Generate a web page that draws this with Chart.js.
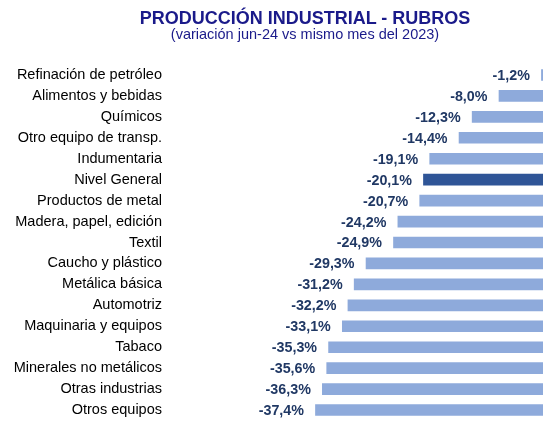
<!DOCTYPE html>
<html>
<head>
<meta charset="utf-8">
<script src="https://cdn.jsdelivr.net/npm/chart.js@4"></script>
<style>
  body { margin: 0; background: #fff; overflow: hidden; }
  #wrap { position: relative; width: 543px; height: 422px; }
  #title, #subtitle {
    position: absolute; left: 0; width: 610px; text-align: center;
    font-family: "Liberation Sans", Arial, sans-serif; color: #1a1a8a; white-space: nowrap;
  }
  #title { top: 8px; font-size: 18px; font-weight: bold; line-height: 20px; }
  #subtitle { top: 27px; font-size: 14.5px; line-height: 15px; }
</style>
</head>
<body>
<div id="wrap">
  <canvas id="rubros_chart" width="543" height="422"></canvas>
  <div id="title">PRODUCCIÓN INDUSTRIAL - RUBROS</div>
  <div id="subtitle">(variación jun-24 vs mismo mes del 2023)</div>
</div>
<script>
// rubros, in the order of the picture
var rubros = ['Refinación de petróleo', 'Alimentos y bebidas', 'Químicos', 'Otro equipo de transp.',
    'Indumentaria', 'Nivel General', 'Productos de metal', 'Madera, papel, edición', 'Textil',
    'Caucho y plástico', 'Metálica básica', 'Automotriz', 'Maquinaria y equipos', 'Tabaco',
    'Minerales no metálicos', 'Otras industrias', 'Otros equipos'];
var variacion = [-1.2, -8.0, -12.3, -14.4, -19.1, -20.1, -20.7, -24.2, -24.9,
    -29.3, -31.2, -32.2, -33.1, -35.3, -35.6, -36.3, -37.4];
var destacado = 'Nivel General';

var colores = rubros.map(function (r) {
    return r === destacado ? '#2f5597' : '#8eaadb';
});

function fmt(v) {
    return v.toFixed(1).replace('.', ',') + '%';
}

// value labels on the left end of each bar
var etiquetas = {
    id: 'etiquetas',
    afterDatasetsDraw: function (chart) {
        var ctx = chart.ctx;
        var meta = chart.getDatasetMeta(0);
        ctx.save();
        ctx.font = 'bold 14.3px "Liberation Sans", Arial, sans-serif';
        ctx.fillStyle = '#203864';
        ctx.textAlign = 'right';
        ctx.textBaseline = 'middle';
        meta.data.forEach(function (bar, i) {
            ctx.fillText(fmt(variacion[i]), bar.x - 11.5, bar.y + 1);
        });
        ctx.restore();
    }
};

new Chart(document.getElementById('rubros_chart'), {
    type: 'bar',
    data: {
        labels: rubros,
        datasets: [{
            data: variacion,
            backgroundColor: colores,
            barThickness: 11
        }]
    },
    options: {
        indexAxis: 'y',
        responsive: false,
        animation: false,
        layout: { padding: { top: 64.5, bottom: 1.5, left: 0, right: 0 } },
        plugins: {
            legend: { display: false },
            tooltip: { enabled: false }
        },
        scales: {
            // zero sits just past the right edge, like in the original
            x: {
                display: false,
                min: -55.9,
                max: -0.95
            },
            y: {
                grid: { display: false },
                border: { display: false },
                afterFit: function (axis) {
                    axis.width = 200;
                    axis.paddingTop = 0;
                    axis.paddingBottom = 0;
                },
                ticks: {
                    padding: 30,
                    color: '#000',
                    font: { family: '"Liberation Sans", Arial, sans-serif', size: 14.5 }
                }
            }
        }
    },
    plugins: [etiquetas]
});
</script>
</body>
</html>
